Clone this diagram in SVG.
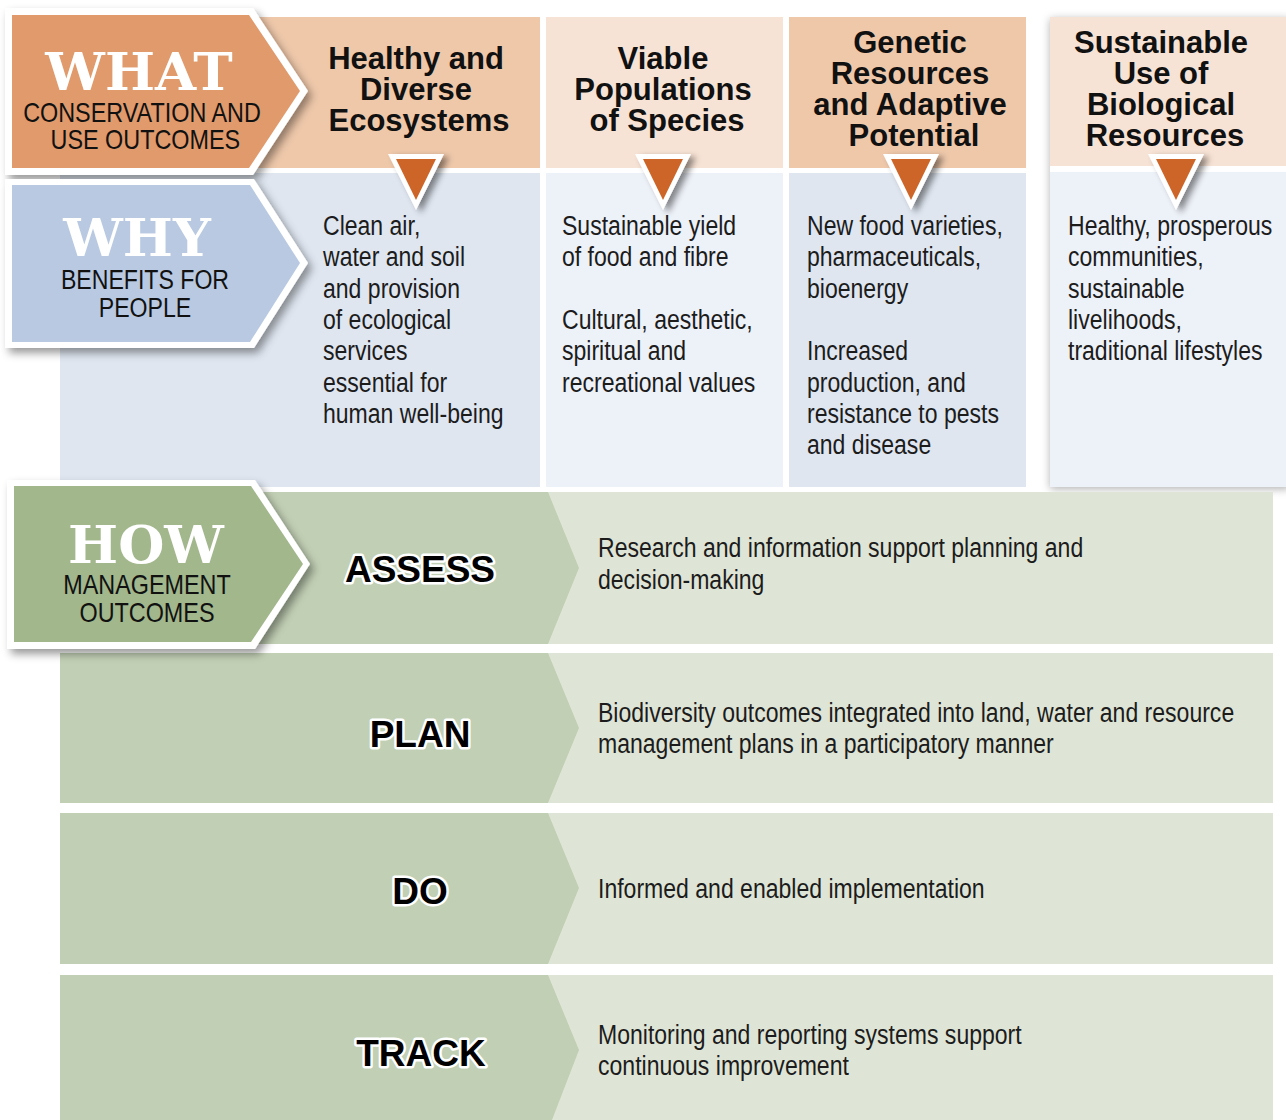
<svg xmlns="http://www.w3.org/2000/svg" width="1286" height="1120" viewBox="0 0 1286 1120">
<defs>
<filter id="sh" x="-10%" y="-10%" width="130%" height="130%"><feDropShadow dx="4" dy="5" stdDeviation="4" flood-color="#000" flood-opacity="0.4"/></filter>
<filter id="sh2" x="-10%" y="-10%" width="130%" height="130%"><feDropShadow dx="0" dy="2" stdDeviation="4" flood-color="#000" flood-opacity="0.3"/></filter>
<filter id="tsh" x="-30%" y="-30%" width="180%" height="180%"><feDropShadow dx="5" dy="3" stdDeviation="3" flood-color="#000" flood-opacity="0.45"/></filter>
</defs>
<style>
.hd{font-family:"Liberation Sans",Arial,sans-serif;font-weight:bold;font-size:31px;fill:#111;text-anchor:middle}
.bd{font-family:"Liberation Sans",Arial,sans-serif;font-size:28px;fill:#1c1c1c}
.bt{font-family:"DejaVu Serif","Liberation Serif",serif;font-weight:bold;font-size:53px;fill:#fff;text-anchor:middle}
.bs{font-family:"Liberation Sans",Arial,sans-serif;font-size:28px;fill:#111;text-anchor:middle}
.rl{font-family:"Liberation Sans",Arial,sans-serif;font-weight:bold;font-size:37px;fill:#000;stroke:#fff;stroke-width:5;paint-order:stroke;stroke-linejoin:round;text-anchor:middle}
.tri-o{fill:#fff}
.tri-i{fill:#cc6527}
</style>
<rect width="1286" height="1120" fill="#fff"/>

<g id="col1">
<rect x="200" y="17" width="340" height="151" fill="#efc8aa"/>
<rect x="60" y="173" width="480" height="314" fill="#dfe6f0"/>
<text class="hd" x="416" y="69">Healthy and</text>
<text class="hd" x="416" y="100">Diverse</text>
<text class="hd" x="419" y="131">Ecosystems</text>
<g transform="translate(323 0) scale(0.823 1)">
<text class="bd" x="0" y="235">Clean air,</text>
<text class="bd" x="0" y="266">water and soil</text>
<text class="bd" x="0" y="298">and provision</text>
<text class="bd" x="0" y="329">of ecological</text>
<text class="bd" x="0" y="360">services</text>
<text class="bd" x="0" y="392">essential for</text>
<text class="bd" x="0" y="423">human well-being</text>
</g>
</g>
<g id="col2">
<rect x="546" y="17" width="237" height="151" fill="#f7e3d5"/>
<rect x="546" y="173" width="237" height="314" fill="#edf1f8"/>
<text class="hd" x="663" y="69">Viable</text>
<text class="hd" x="663" y="100">Populations</text>
<text class="hd" x="667" y="131">of Species</text>
<g transform="translate(562 0) scale(0.823 1)">
<text class="bd" x="0" y="235">Sustainable yield</text>
<text class="bd" x="0" y="266">of food and fibre</text>
<text class="bd" x="0" y="329">Cultural, aesthetic,</text>
<text class="bd" x="0" y="360">spiritual and</text>
<text class="bd" x="0" y="392">recreational values</text>
</g>
</g>
<g id="col3">
<rect x="789" y="17" width="237" height="151" fill="#efc8aa"/>
<rect x="789" y="173" width="237" height="314" fill="#dfe6f0"/>
<text class="hd" x="910" y="53">Genetic</text>
<text class="hd" x="910" y="84">Resources</text>
<text class="hd" x="910" y="115">and Adaptive</text>
<text class="hd" x="914" y="146">Potential</text>
<g transform="translate(807 0) scale(0.823 1)">
<text class="bd" x="0" y="235">New food varieties,</text>
<text class="bd" x="0" y="266">pharmaceuticals,</text>
<text class="bd" x="0" y="298">bioenergy</text>
<text class="bd" x="0" y="360">Increased</text>
<text class="bd" x="0" y="392">production, and</text>
<text class="bd" x="0" y="423">resistance to pests</text>
<text class="bd" x="0" y="454">and disease</text>
</g>
</g>
<g id="col4">
<rect x="1050" y="17" width="240" height="470" fill="#fff" filter="url(#sh2)"/>
<rect x="1050" y="17" width="240" height="149" fill="#f7e3d5"/>
<rect x="1050" y="172" width="240" height="315" fill="#edf1f8"/>
<text class="hd" x="1161" y="53">Sustainable</text>
<text class="hd" x="1161" y="84">Use of</text>
<text class="hd" x="1161" y="115">Biological</text>
<text class="hd" x="1165" y="146">Resources</text>
<g transform="translate(1068 0) scale(0.823 1)">
<text class="bd" x="0" y="235">Healthy, prosperous</text>
<text class="bd" x="0" y="266">communities,</text>
<text class="bd" x="0" y="298">sustainable</text>
<text class="bd" x="0" y="329">livelihoods,</text>
<text class="bd" x="0" y="360">traditional lifestyles</text>
</g>
</g>

<g id="connectors">
<polygon class="tri-o" points="388,154 444,154 416,210" filter="url(#tsh)"/>
<polygon class="tri-i" points="396,159 436,159 416,200"/>
<polygon class="tri-o" points="635,154 691,154 663,210" filter="url(#tsh)"/>
<polygon class="tri-i" points="643,159 683,159 663,200"/>
<polygon class="tri-o" points="883,154 939,154 911,210" filter="url(#tsh)"/>
<polygon class="tri-i" points="891,159 931,159 911,200"/>
<polygon class="tri-o" points="1148,154 1204,154 1176,210" filter="url(#tsh)"/>
<polygon class="tri-i" points="1156,159 1196,159 1176,200"/>
</g>

<g id="row-assess">
<rect x="548" y="492" width="725" height="152" fill="#dfe5d6"/>
<polygon points="60,492 548,492 579,568 548,644 60,644" fill="#c1cfb4"/>
<text class="rl" x="420" y="582">ASSESS</text>
<g transform="translate(598 0) scale(0.823 1)">
<text class="bd" x="0" y="557">Research and information support planning and</text>
<text class="bd" x="0" y="589">decision-making</text>
</g>
</g>
<g id="row-plan">
<rect x="548" y="653" width="725" height="150" fill="#dfe5d6"/>
<polygon points="60,653 548,653 579,728 548,803 60,803" fill="#c1cfb4"/>
<text class="rl" x="420" y="747">PLAN</text>
<g transform="translate(598 0) scale(0.823 1)">
<text class="bd" x="0" y="722">Biodiversity outcomes integrated into land, water and resource</text>
<text class="bd" x="0" y="753">management plans in a participatory manner</text>
</g>
</g>
<g id="row-do">
<rect x="548" y="813" width="725" height="151" fill="#dfe5d6"/>
<polygon points="60,813 548,813 579,888 548,964 60,964" fill="#c1cfb4"/>
<text class="rl" x="420" y="904">DO</text>
<g transform="translate(598 0) scale(0.823 1)">
<text class="bd" x="0" y="898">Informed and enabled implementation</text>
</g>
</g>
<g id="row-track">
<rect x="548" y="975" width="725" height="145" fill="#dfe5d6"/>
<polygon points="60,975 548,975 579,1050 552,1120 60,1120" fill="#c1cfb4"/>
<text class="rl" x="421" y="1066">TRACK</text>
<g transform="translate(598 0) scale(0.823 1)">
<text class="bd" x="0" y="1044">Monitoring and reporting systems support</text>
<text class="bd" x="0" y="1075">continuous improvement</text>
</g>
</g>

<g id="what">
<polygon points="5,8 253,8 308,91 253,175 5,175" fill="#fff" filter="url(#sh)"/>
<polygon points="12,15 249,15 300,91 249,168 12,168" fill="#e09a6c"/>
<text class="bt" x="139" y="90">WHAT</text>
<g transform="translate(142 0) scale(0.835 1)">
<text class="bs" x="0" y="122">CONSERVATION AND</text>
<text class="bs" x="4" y="149">USE OUTCOMES</text>
</g>
</g>
<g id="why">
<polygon points="5,179 254,179 308,263 254,348 5,348" fill="#fff" filter="url(#sh)"/>
<polygon points="12,185 250,185 300,263 250,342 12,342" fill="#b8c9e1"/>
<text class="bt" x="137" y="256">WHY</text>
<g transform="translate(145 0) scale(0.825 1)">
<text class="bs" x="0" y="289">BENEFITS FOR</text>
<text class="bs" x="0" y="317">PEOPLE</text>
</g>
</g>
<g id="how">
<polygon points="7,480 255,480 310,564 255,649 7,649" fill="#fff" filter="url(#sh)"/>
<polygon points="14,486 251,486 303,564 251,642 14,642" fill="#a2b78c"/>
<text class="bt" x="146" y="563">HOW</text>
<g transform="translate(147 0) scale(0.835 1)">
<text class="bs" x="0" y="594">MANAGEMENT</text>
<text class="bs" x="0" y="622">OUTCOMES</text>
</g>
</g>
</svg>
